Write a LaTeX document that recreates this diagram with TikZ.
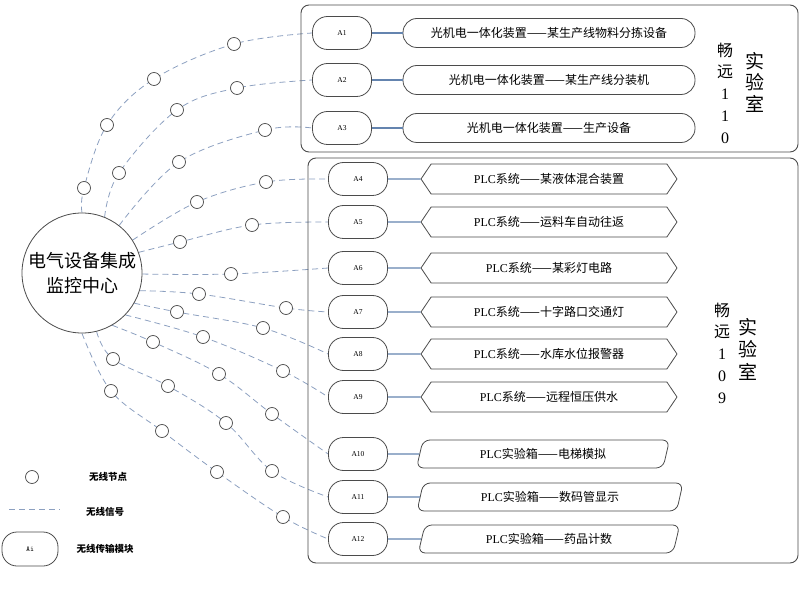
\documentclass[tikz,border=0pt]{standalone}
\usepackage{fontspec}
\setmainfont{Liberation Serif}
\newfontfamily\cjk{Noto Sans CJK SC}
\usetikzlibrary{shapes.geometric,shapes.symbols,backgrounds}
\definecolor{sigcol}{RGB}{140,160,192}
\definecolor{linkcol}{RGB}{100,132,175}
\definecolor{edgecol}{RGB}{75,75,75}
\begin{document}
\begin{tikzpicture}[x=1pt,y=-1pt,
    amod/.style={draw=edgecol,fill=white,line width=0.8pt,rounded corners=15pt,minimum width=59pt,minimum height=33pt,inner sep=0pt,font=\rmfamily\fontsize{7.5}{8}\selectfont},
    devbox/.style={draw=edgecol,line width=0.8pt,rounded corners=14pt,minimum width=292pt,minimum height=29pt,inner sep=0pt,font=\cjk\fontsize{12}{14}\selectfont},
    plcbox/.style={signal,signal to=west and east,signal pointer angle=112,draw=edgecol,line width=0.8pt,minimum width=256pt,minimum height=30pt,inner sep=0pt,font=\cjk\fontsize{12}{14}\selectfont},
    boxbox/.style={trapezium,trapezium left angle=73,trapezium right angle=107,trapezium stretches=true,rounded corners=7pt,draw=edgecol,line width=0.8pt,minimum height=28pt,inner sep=0pt,font=\cjk\fontsize{12}{14}\selectfont},
    wnode/.style={circle,draw=edgecol,fill=white,line width=0.7pt,minimum size=13pt,inner sep=0pt},
    sig/.style={sigcol,dashed,dash pattern=on 6pt off 4pt,line width=0.8pt},
    link/.style={linkcol,line width=1.1pt},
    lab/.style={align=center,inner sep=0pt},
    legtext/.style={font=\cjk\bfseries\fontsize{9.5}{11}\selectfont,inner sep=0pt}]
  \useasboundingbox (0,0) rectangle (800,609);

  \draw[edgecol,line width=0.9pt,rounded corners=8pt] (301,5) rectangle (798,152);
  \draw[edgecol,line width=0.9pt,rounded corners=8pt] (308,158) rectangle (798,563);

  \node[circle,draw=edgecol,line width=0.8pt,minimum size=120pt,inner sep=0pt,align=center,font=\cjk\fontsize{18}{25}\selectfont] (C) at (82,273) {电气设备集成\\监控中心};

  \node[amod] (A1) at (342,33) {A1};
  \node[amod] (A2) at (342,80) {A2};
  \node[amod] (A3) at (342,128) {A3};
  \node[amod] (A4) at (358,179) {A4};
  \node[amod] (A5) at (358,222) {A5};
  \node[amod] (A6) at (358,268) {A6};
  \node[amod] (A7) at (358,312) {A7};
  \node[amod] (A8) at (358,354) {A8};
  \node[amod] (A9) at (358,397) {A9};
  \node[amod] (A10) at (358,454) {A10};
  \node[amod] (A11) at (358,497) {A11};
  \node[amod] (A12) at (358,539) {A12};

  \node[devbox] (B1) at (549,33) {光机电一体化装置——某生产线物料分拣设备};
  \node[devbox] (B2) at (549,80) {光机电一体化装置——某生产线分装机};
  \node[devbox] (B3) at (549,128) {光机电一体化装置——生产设备};
  \node[plcbox] (B4) at (549,179) {\textrm{PLC}系统——某液体混合装置};
  \node[plcbox] (B5) at (549,222) {\textrm{PLC}系统——运料车自动往返};
  \node[plcbox] (B6) at (549,268) {\textrm{PLC}系统——某彩灯电路};
  \node[plcbox] (B7) at (549,312) {\textrm{PLC}系统——十字路口交通灯};
  \node[plcbox] (B8) at (549,354) {\textrm{PLC}系统——水库水位报警器};
  \node[plcbox] (B9) at (549,397) {\textrm{PLC}系统——远程恒压供水};
  \node[boxbox,minimum width=253pt] (B10) at (543,454) {\textrm{PLC}实验箱——电梯模拟};
  \node[boxbox,minimum width=266pt] (B11) at (550,497) {\textrm{PLC}实验箱——数码管显示};
  \node[boxbox,minimum width=262pt] (B12) at (549,539) {\textrm{PLC}实验箱——药品计数};

  \draw[link] (A1) -- (B1);
  \draw[link] (A2) -- (B2);
  \draw[link] (A3) -- (B3);
  \draw[link] (A4) -- (B4);
  \draw[link] (A5) -- (B5);
  \draw[link] (A6) -- (B6);
  \draw[link] (A7) -- (B7);
  \draw[link] (A8) -- (B8);
  \draw[link] (A9) -- (B9);
  \draw[link] (A10) -- (B10.west);
  \draw[link] (A11) -- (B11.west);
  \draw[link] (A12) -- (B12.west);

  \node[lab,font=\fontsize{16}{21.7}\selectfont] (r110) at (725,93) {{\cjk 畅}\\{\cjk 远}\\1\\1\\0};
  \node[lab,font=\cjk\fontsize{19}{21.5}\selectfont] (s110) at (755,82) {实\\验\\室};
  \node[lab,font=\fontsize{16}{21.7}\selectfont] (r109) at (722,353) {{\cjk 畅}\\{\cjk 远}\\1\\0\\9};
  \node[lab,font=\cjk\fontsize{19}{22.5}\selectfont] (s109) at (748,349) {实\\验\\室};

  \node[wnode] (w1a) at (84,188) {}; \node[wnode] (w1b) at (107,125) {}; \node[wnode] (w1c) at (154,79) {}; \node[wnode] (w1d) at (234,44) {};
  \node[wnode] (w2a) at (119,173) {}; \node[wnode] (w2b) at (177,110) {}; \node[wnode] (w2c) at (237,88) {};
  \node[wnode] (w3a) at (179,162) {}; \node[wnode] (w3b) at (265,130) {};
  \node[wnode] (w4a) at (197,202) {}; \node[wnode] (w4b) at (266,182) {};
  \node[wnode] (w5a) at (180,242) {}; \node[wnode] (w5b) at (252,225) {};
  \node[wnode] (w6a) at (231,274) {};
  \node[wnode] (w7a) at (199,294) {}; \node[wnode] (w7b) at (286,308) {};
  \node[wnode] (w8a) at (177,312) {}; \node[wnode] (w8b) at (263,328) {};
  \node[wnode] (w9a) at (203,337) {}; \node[wnode] (w9b) at (283,371) {};
  \node[wnode] (w10a) at (153,342) {}; \node[wnode] (w10b) at (219,374) {}; \node[wnode] (w10c) at (272,414) {};
  \node[wnode] (w11a) at (113,359) {}; \node[wnode] (w11b) at (168,386) {}; \node[wnode] (w11c) at (226,423) {}; \node[wnode] (w11d) at (272,471) {};
  \node[wnode] (w12a) at (111,391) {}; \node[wnode] (w12b) at (162,431) {}; \node[wnode] (w12c) at (217,472) {}; \node[wnode] (w12d) at (283,517) {};

  \begin{pgfonlayer}{background}
    \draw[sig] plot[smooth,tension=0.6] coordinates {(C.90) (w1a) (w1b) (w1c) (w1d) (A1.west)};
    \draw[sig] plot[smooth,tension=0.6] coordinates {(C.68) (w2a) (w2b) (w2c) (A2.west)};
    \draw[sig] plot[smooth,tension=0.6] coordinates {(C.52) (w3a) (w3b) (A3.west)};
    \draw[sig] plot[smooth,tension=0.6] coordinates {(C.33) (w4a) (w4b) (A4.west)};
    \draw[sig] plot[smooth,tension=0.6] coordinates {(C.20) (w5a) (w5b) (A5.west)};
    \draw[sig] plot[smooth,tension=0.6] coordinates {(C.-1) (w6a) (A6.west)};
    \draw[sig] plot[smooth,tension=0.6] coordinates {(C.-17) (w7a) (w7b) (A7.west)};
    \draw[sig] plot[smooth,tension=0.6] coordinates {(C.-30) (w8a) (w8b) (A8.west)};
    \draw[sig] plot[smooth,tension=0.6] coordinates {(C.-44) (w9a) (w9b) (A9.west)};
    \draw[sig] plot[smooth,tension=0.6] coordinates {(C.-60) (w10a) (w10b) (w10c) (A10.west)};
    \draw[sig] plot[smooth,tension=0.6] coordinates {(C.-76) (w11a) (w11b) (w11c) (w11d) (A11.west)};
    \draw[sig] plot[smooth,tension=0.6] coordinates {(C.-90) (w12a) (w12b) (w12c) (w12d) (A12.west)};
  \end{pgfonlayer}

  \node[wnode] (lg1) at (32,477) {};
  \node[legtext] (lgt1) at (108,477) {无线节点};
  \coordinate (lg2a) at (9,509);
  \coordinate (lg2b) at (60,509);
  \draw[sig] (lg2a) -- (lg2b);
  \node[legtext] (lgt2) at (105,512) {无线信号};
  \node[amod,minimum width=56pt,minimum height=34pt,font=\ttfamily\fontsize{7.5}{8}\selectfont] (lg3) at (30,549) {Ai};
  \node[legtext] (lgt3) at (105,549) {无线传输模块};
\end{tikzpicture}
\end{document}
